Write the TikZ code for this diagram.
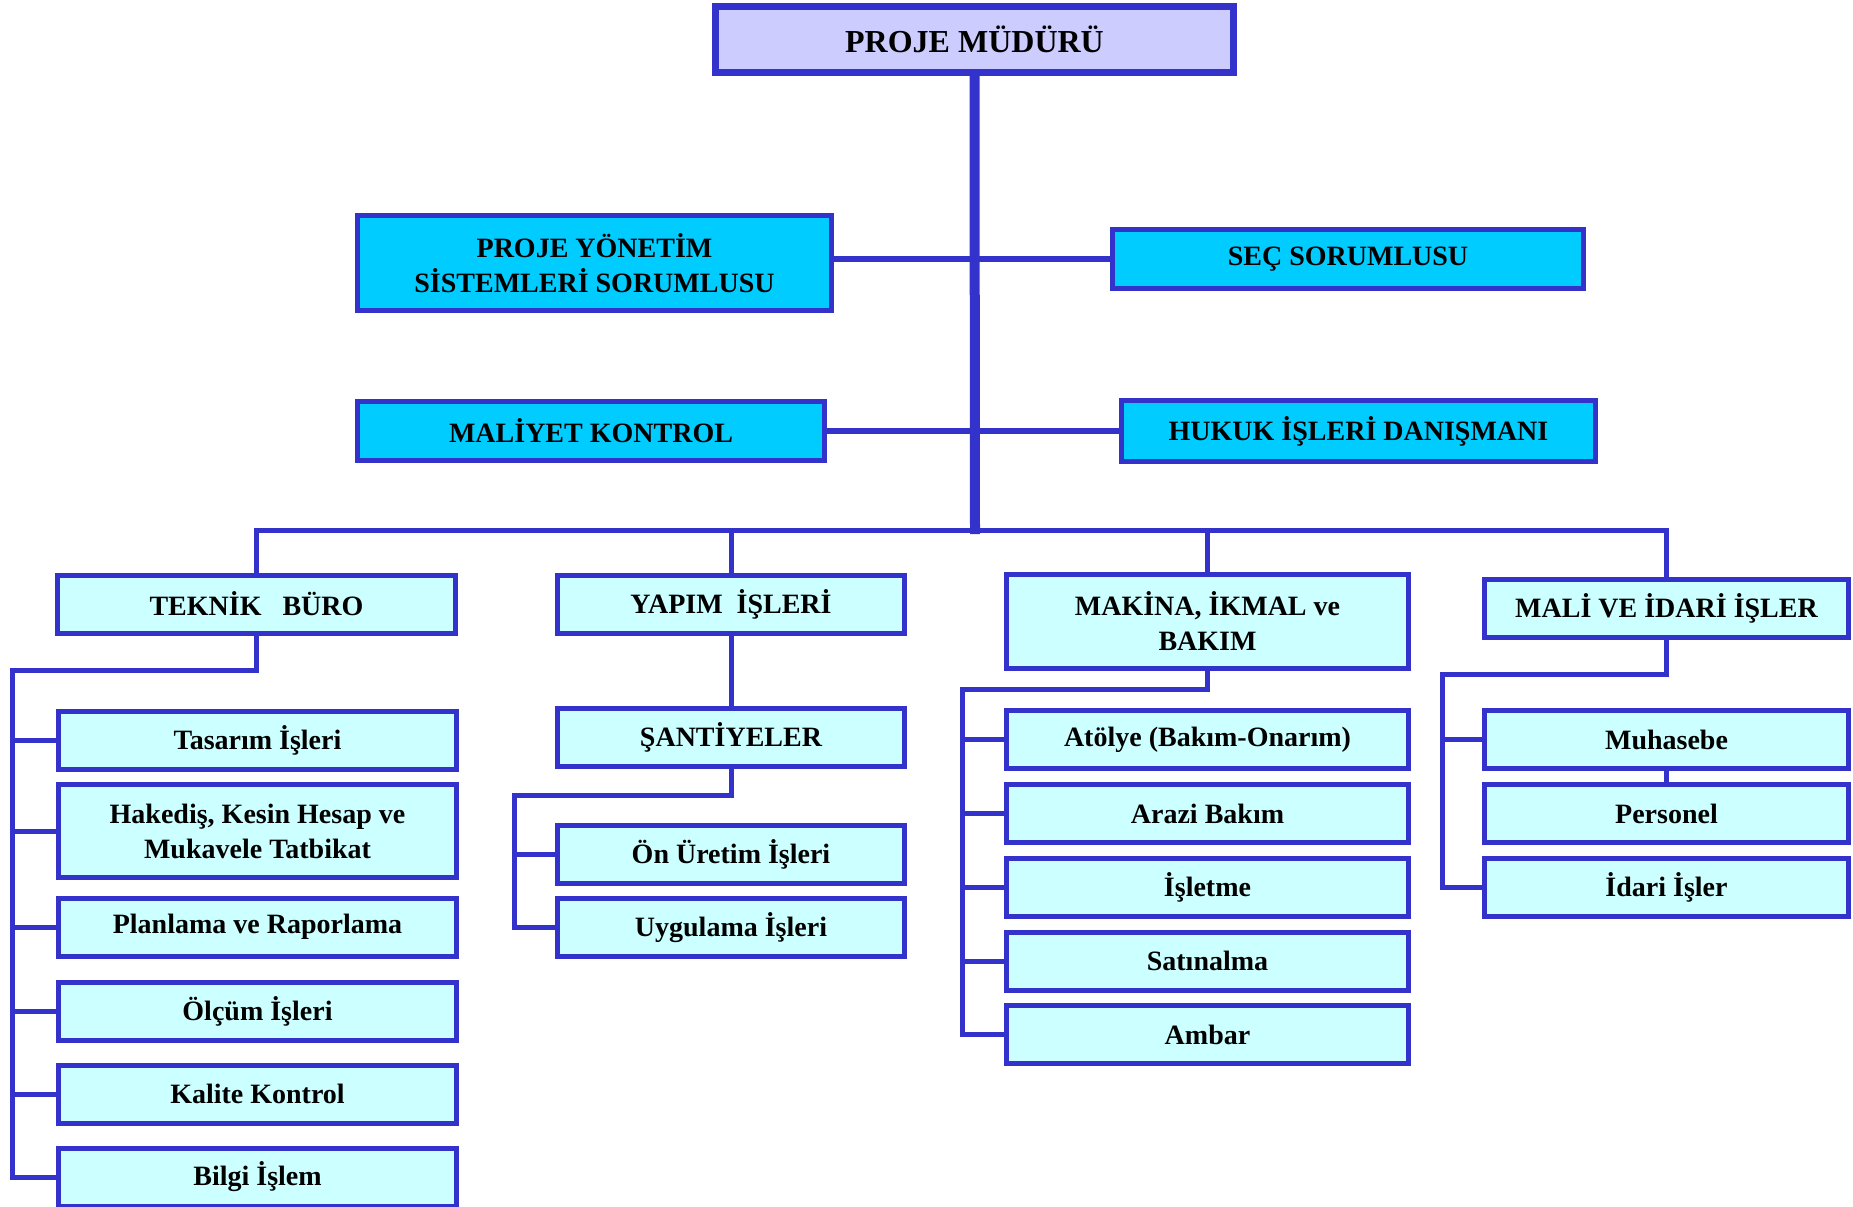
\documentclass[tikz,border=0pt]{standalone}
\usepackage{fontspec}
\setmainfont{Liberation Serif}
\usetikzlibrary{positioning, calc}
\definecolor{frame}{HTML}{3333CC}
\definecolor{chieffill}{HTML}{CCCCFF}
\definecolor{stafffill}{HTML}{00CCFF}
\definecolor{deptfill}{HTML}{CCFFFF}

\begin{document}
\begin{tikzpicture}[x = 1pt, y = -1pt]

\tikzset{
box/.style = {rectangle, draw = frame, line width = 5pt, inner sep = 0pt, 
	align = center, font = \fontsize{28}{35}\selectfont\bfseries},
chief/.style = {box, fill = chieffill, line width = 7pt, minimum width = 518pt, 
	minimum height = 66pt, font = \fontsize{32}{38}\selectfont\bfseries},
staff/.style = {box, fill = stafffill, minimum height = 59pt},
dept/.style = {box, fill = deptfill, minimum width = #1, minimum height = 58pt},
dept/.default = 398pt,
link/.style = {draw = frame, line width = 5pt},
stafflink/.style = {draw = frame, line width = 6.5pt},
spine/.style = {draw = frame, line width = 10pt},
	}

\useasboundingbox (0, 0) rectangle (1853, 1207);

%% Top
\node at (974.5, 39.5) [chief] (mudur) {PROJE MÜDÜRÜ};

%% Staff
\node at (594.5, 263) [staff, minimum width = 474pt, minimum height = 95pt] (pys) {PROJE YÖNETİM\\SİSTEMLERİ SORUMLUSU};
\node at (1348, 259) [staff, minimum width = 471pt] (sec) {SEÇ SORUMLUSU};
\node at (591, 431) [staff, minimum width = 467pt] (maliyet) {MALİYET KONTROL};
\node at (1358.5, 431) [staff, minimum width = 474pt, minimum height = 61pt] (hukuk) {HUKUK İŞLERİ DANIŞMANI};

%% Departments
\node at (256.5, 604) [dept] (teknik) {TEKNİK\ \ \ BÜRO};
\node at (731, 604) [dept = 347pt] (yapim) {YAPIM\ \ İŞLERİ};
\node at (1207.5, 621.5) [dept = 402pt, minimum height = 94pt] (makina) {MAKİNA, İKMAL ve\\BAKIM};
\node at (1666.5, 608.5) [dept = 364pt] (mali) {MALİ VE İDARİ İŞLER};

% Teknik buro
\node at (257.5, 740.5) [dept] (tasarim) {Tasarım İşleri};
\node at (257.5, 831) [dept, minimum height = 93pt] (hakedis) {Hakediş, Kesin Hesap ve\\Mukavele Tatbikat};
\node at (257.5, 927) [dept] (planlama) {Planlama ve Raporlama};
\node at (257.5, 1011) [dept] (olcum) {Ölçüm İşleri};
\node at (257.5, 1094) [dept] (kalite) {Kalite Kontrol};
\node at (257.5, 1177) [dept] (bilgi) {Bilgi İşlem};

% Yapim isleri
\node at (731, 737) [dept = 347pt] (santiye) {ŞANTİYELER};
\node at (731, 854.5) [dept = 347pt] (onuretim) {Ön Üretim İşleri};
\node at (731, 927.5) [dept = 347pt] (uygulama) {Uygulama İşleri};

% Makina, ikmal ve bakim
\node at (1207.5, 739.5) [dept = 402pt] (atolye) {Atölye (Bakım-Onarım)};
\node at (1207.5, 813.5) [dept = 402pt] (arazi) {Arazi Bakım};
\node at (1207.5, 887) [dept = 402pt] (isletme) {İşletme};
\node at (1207.5, 961) [dept = 402pt] (satin) {Satınalma};
\node at (1207.5, 1034.5) [dept = 402pt] (ambar) {Ambar};

% Mali ve idari isler
\node at (1666.5, 739.5) [dept = 364pt] (muhasebe) {Muhasebe};
\node at (1666.5, 813.5) [dept = 364pt] (personel) {Personel};
\node at (1666.5, 887) [dept = 364pt] (idari) {İdari İşler};

%% Connections
\coordinate (bus) at (975, 530);
\coordinate (spine end) at (975, 534);
\coordinate (tbus) at (12, 670);
\coordinate (ybus) at (514, 795);
\coordinate (mbus) at (962, 689);
\coordinate (abus) at (1442, 674);

% Staff lines
\draw [stafflink] (pys.east |- sec.west) -- (sec.west);
\draw [stafflink] (maliyet.east) -- (hukuk.west);

% Main bus
\draw [link] (teknik.north) |- (bus) -| (mali.north);
\draw [link] (yapim.north) -- (yapim.north |- bus);
\draw [link] (makina.north) -- (makina.north |- bus);
\draw [spine] (mudur.south) -- (spine end);

% Teknik buro
\draw [link] (teknik.south) |- (tbus) -- (tbus |- bilgi.west) -- (bilgi.west);
\draw [link] (tbus |- tasarim.west) -- (tasarim.west);
\draw [link] (tbus |- hakedis.west) -- (hakedis.west);
\draw [link] (tbus |- planlama.west) -- (planlama.west);
\draw [link] (tbus |- olcum.west) -- (olcum.west);
\draw [link] (tbus |- kalite.west) -- (kalite.west);

% Yapim isleri
\draw [link] (yapim.south) -- (santiye.north);
\draw [link] (santiye.south) |- (ybus) -- (ybus |- uygulama.west) -- (uygulama.west);
\draw [link] (ybus |- onuretim.west) -- (onuretim.west);

% Makina, ikmal ve bakim
\draw [link] (makina.south) |- (mbus) -- (mbus |- ambar.west) -- (ambar.west);
\draw [link] (mbus |- atolye.west) -- (atolye.west);
\draw [link] (mbus |- arazi.west) -- (arazi.west);
\draw [link] (mbus |- isletme.west) -- (isletme.west);
\draw [link] (mbus |- satin.west) -- (satin.west);

% Mali ve idari isler
\draw [link] (mali.south) |- (abus) -- (abus |- idari.west) -- (idari.west);
\draw [link] (abus |- muhasebe.west) -- (muhasebe.west);
\draw [link] (muhasebe.south) -- (personel.north);

\end{tikzpicture}
\end{document}
